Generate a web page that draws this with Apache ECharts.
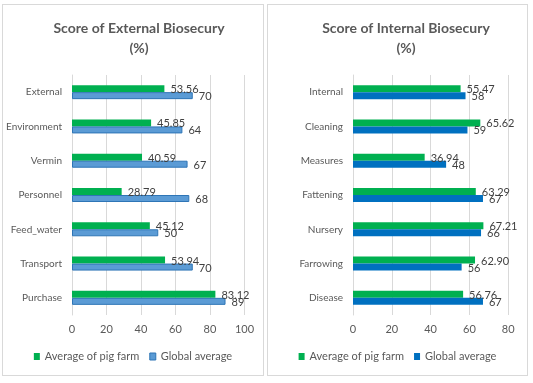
<!DOCTYPE html>
<html>
<head>
<meta charset="utf-8">
<script src="https://cdn.jsdelivr.net/npm/echarts@6/dist/echarts.min.js"></script>
<style>
html,body{margin:0;padding:0;background:#fff;width:533px;height:383px;overflow:hidden;}
.panel{position:absolute;box-sizing:border-box;border:1px solid #d9d9d9;background:#fff;}
</style>
</head>
<body>
<div id="left" class="panel" style="left:2px;top:4px;width:262px;height:372px;"></div>
<div id="right" class="panel" style="left:267px;top:4px;width:261px;height:372px;"></div>
<script>
const catsExt = ['External', 'Environment', 'Vermin', 'Personnel', 'Feed_water', 'Transport', 'Purchase'];
const farmExt = [53.56, 45.85, 40.59, 28.79, 45.12, 53.94, 83.12];
const globalExt = [70, 64, 67, 68, 50, 70, 89];
const catsInt = ['Internal', 'Cleaning', 'Measures', 'Fattening', 'Nursery', 'Farrowing', 'Disease'];
const farmInt = [55.47, 65.62, 36.94, 63.29, 67.21, 62.90, 56.76];
const globalInt = [58, 59, 48, 67, 66, 56, 67];
const ticksExt = [0, 20, 40, 60, 80, 100];
const ticksInt = [0, 20, 40, 60, 80];
const seriesNames = ['Average of pig farm', 'Global average'];

const FONT = 'Lato';
const GREEN = '#00B050';

function build(el, cfg) {
  const chart = echarts.init(el, null, {renderer: 'canvas'});
  const lbl = (dec) => ({
    show: true, position: 'right', distance: 6, offset: [0, 1],
    color: '#404040', fontFamily: FONT, fontSize: 11,
    formatter: p => p.value.toFixed(dec)
  });
  chart.setOption({
    animation: false,
    textStyle: {fontFamily: FONT},
    title: {
      text: cfg.title, left: cfg.titleLeft, top: 8, textAlign: 'center',
      textStyle: {fontFamily: FONT, fontSize: 14, fontWeight: 'bold', color: '#595959', lineHeight: 20}
    },
    legend: {
      bottom: 8, left: 'center', itemWidth: 6, itemHeight: 7, itemGap: 10,
      icon: 'rect',
      textStyle: {fontFamily: FONT, fontSize: 11, color: '#595959'},
      data: [
        {name: seriesNames[0], itemStyle: {color: GREEN}},
        {name: seriesNames[1], itemStyle: cfg.blueStyle}
      ]
    },
    grid: {left: cfg.gridLeft, width: cfg.gridWidth, top: 70, height: 240,
           containLabel: false, outerBoundsMode: 'none'},
    xAxis: {
      type: 'value', min: 0, max: cfg.ticks[cfg.ticks.length - 1], interval: 20,
      axisLine: {show: false}, axisTick: {show: false},
      splitLine: {lineStyle: {color: '#d9d9d9', width: 1}},
      axisLabel: {color: '#595959', fontSize: 11, fontFamily: FONT, margin: 9}
    },
    yAxis: {
      type: 'category', data: cfg.cats, inverse: true,
      axisLine: {show: true, lineStyle: {color: '#d9d9d9'}}, axisTick: {show: false},
      axisLabel: {color: '#595959', fontSize: 10, fontFamily: FONT, margin: 10}
    },
    series: [
      {name: seriesNames[0], type: 'bar', data: cfg.farm, barWidth: 7, barGap: '0%',
       itemStyle: {color: GREEN}, label: lbl(2)},
      {name: seriesNames[1], type: 'bar', data: cfg.global, barWidth: 7, barGap: '0%',
       itemStyle: cfg.blueStyle, label: lbl(0)}
    ]
  });
}

build(document.getElementById('left'), {
  title: 'Score of External Biosecury\n(%)', titleLeft: 131,
  cats: catsExt, farm: farmExt, global: globalExt, ticks: ticksExt,
  gridLeft: 69, gridWidth: 172.5,
  blueStyle: {color: '#5B9BD5', borderColor: '#2E75B6', borderWidth: 1}
});
build(document.getElementById('right'), {
  title: 'Score of Internal Biosecury\n(%)', titleLeft: 133,
  cats: catsInt, farm: farmInt, global: globalInt, ticks: ticksInt,
  gridLeft: 85, gridWidth: 155.2,
  blueStyle: {color: '#0070C0'}
});
</script>
</body>
</html>
